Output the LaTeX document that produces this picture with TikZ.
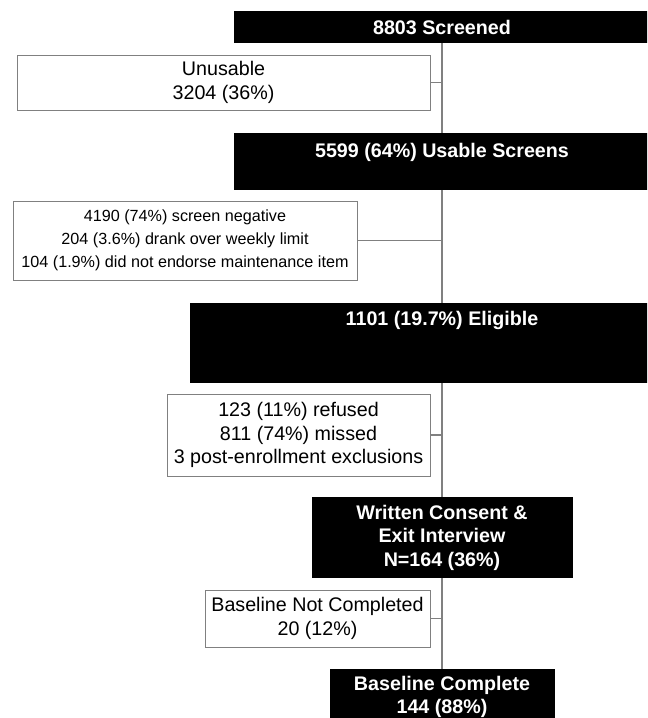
\documentclass[tikz,border=0pt]{standalone}
\usepackage{fontspec}
\setmainfont{Liberation Sans}
\usepackage{tikz}

\begin{document}
\begin{tikzpicture}[
		darktext/.style={text=white, font=\fontsize{11.2}{13.4}\selectfont\bfseries, align=center},
		darkbox/.style={rectangle, fill=black, darktext, inner sep=0pt},
		greybox/.style={rectangle, draw=black!50, fill=white, align=center, inner sep=0pt, font=\fontsize{11.2}{13.4}\selectfont},
		link/.style={draw=black!50, line width=0.6pt}]
		
		\clip (0,0) rectangle (12.94,-14.36);
		
		% Main boxes
		
		\node[darkbox, minimum width=8.32cm, minimum height=0.64cm]
		(screened) at (8.84,-0.54) {8803 Screened};
		\node[darkbox, minimum width=8.32cm, minimum height=1.14cm,
		label={[darktext, inner sep=0pt, anchor=north, yshift=-0.21cm]north:5599 (64\%) Usable Screens}]
		(usable) at (8.84,-3.23) {};
		\node[darkbox, minimum width=10.08cm, minimum height=1.6cm,
		label={[darktext, inner sep=0pt, anchor=north, yshift=-0.17cm]north:1101 (19.7\%) Eligible}]
		(eligible) at (8.84,-6.86) {};
		\node[darkbox, minimum width=5.22cm, minimum height=1.62cm]
		(consent) at (8.84,-10.75) {Written Consent \&\\Exit Interview\\N=164 (36\%)};
		\node[darkbox, minimum width=4.5cm, minimum height=1.12cm]
		(complete) at (8.84,-13.94) {Baseline Complete\\144 (88\%)};
		
		% Side boxes
		
		\node[greybox, minimum width=8.26cm, minimum height=1.1cm]
		(unusable) at (4.47,-1.65) {Unusable\\3204 (36\%)};
		\node[greybox, minimum width=6.88cm, minimum height=1.58cm, font=\fontsize{9.2}{13}\selectfont]
		(negative) at (3.70,-4.81) {4190 (74\%) screen negative\\204 (3.6\%) drank over weekly limit\\104 (1.9\%) did not endorse maintenance item};
		\node[greybox, minimum width=5.26cm, minimum height=1.64cm]
		(refused) at (5.97,-8.70) {123 (11\%) refused\\811 (74\%) missed\\3 post-enrollment exclusions};
		\node[greybox, minimum width=4.5cm, minimum height=1.14cm]
		(notdone) at (6.35,-12.37) {Baseline Not Completed\\20 (12\%)};
		
		% EDGE
		
		\draw[link] (screened) -- (usable);
		\draw[link] (usable) -- (eligible);
		\draw[link] (eligible) -- (consent);
		\draw[link] (consent) -- (complete);
		
		% Side EDGE
		
		\draw[link] (unusable.east) -- (unusable.east -| screened.south);
		\draw[link] (negative.east) -- (negative.east -| screened.south);
		\draw[link] (refused.east) -- (refused.east -| screened.south);
		\draw[link] (notdone.east) -- (notdone.east -| screened.south);
		
	\end{tikzpicture}
\end{document}
